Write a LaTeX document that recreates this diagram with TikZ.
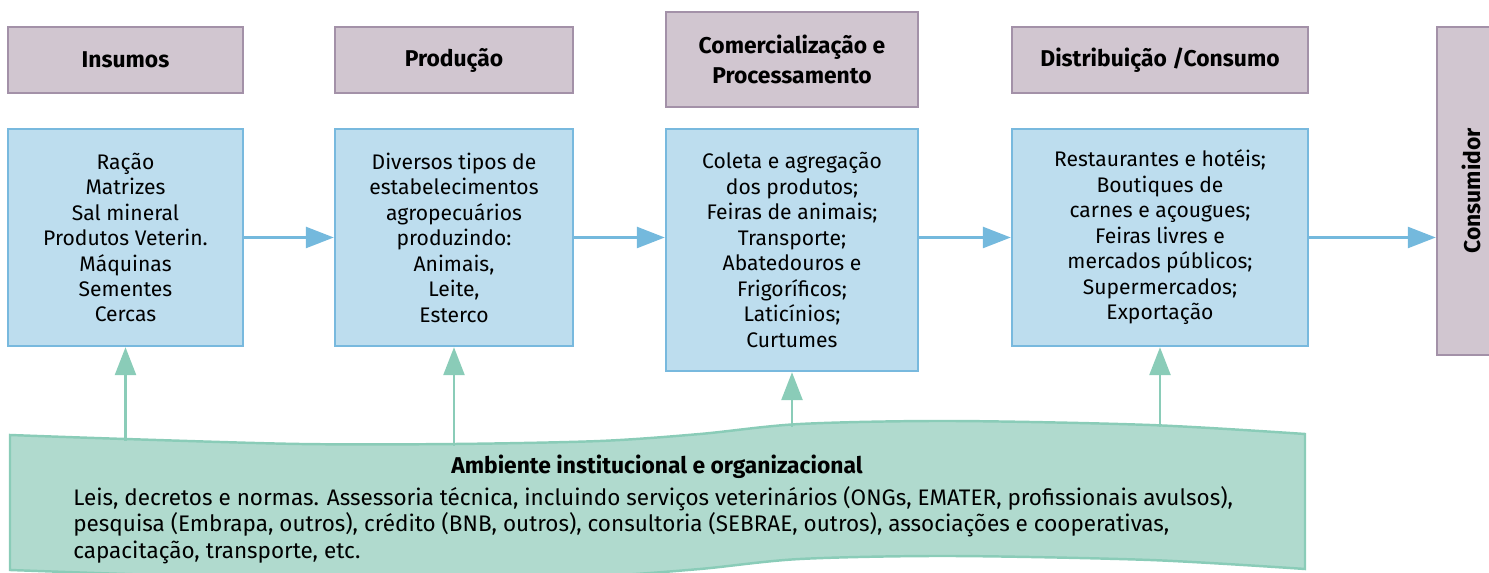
\documentclass[tikz,border=0pt]{standalone}
\usepackage{fontspec}
\setmainfont{Fira Sans}
\usetikzlibrary{arrows.meta}
\definecolor{hdrfill}{RGB}{209,198,208}
\definecolor{hdrline}{RGB}{163,145,168}
\definecolor{blkfill}{RGB}{189,221,238}
\definecolor{blkline}{RGB}{120,185,222}
\definecolor{flwcol}{RGB}{116,185,221}
\definecolor{ambfill}{RGB}{176,218,206}
\definecolor{ambline}{RGB}{138,204,184}
\tikzset{%
    hdr/.style={draw=hdrline,fill=hdrfill,line width=1.4pt,inner sep=0pt,align=center,
        font=\bfseries\fontsize{13}{17}\selectfont},
    blk/.style={draw=blkline,fill=blkfill,line width=1.4pt,inner sep=0pt,align=center,
        font=\fontsize{12}{14.5}\selectfont},
    flw/.style={draw=flwcol,line width=1.5pt,-{Triangle[length=0.56cm,width=0.42cm]}},
    inarr/.style={draw=ambline,line width=1.5pt,-{Triangle[length=0.56cm,width=0.42cm]}},
    ambsh/.style={draw=ambline,fill=ambfill,line width=1.4pt}
}

\begin{document}
\begin{tikzpicture}[x=0.02cm,y=-0.02cm]
        \useasboundingbox (0,0) rectangle (1489,573);
        \clip (0,0) rectangle (1489,573);
        % headers
        \node[hdr,minimum width=4.7cm,minimum height=1.32cm] (hIns) at (125.5,60){Insumos};
        \node[hdr,minimum width=4.76cm,minimum height=1.32cm] (hProd) at (454,60){Produção};
        \node[hdr,minimum width=5.04cm,minimum height=1.9cm] (hCom) at (792,59.5){Comercialização e\\Processamento};
        \node[hdr,minimum width=5.92cm,minimum height=1.32cm] (hDist) at (1160,60){Distribuição /Consumo};
        \node[hdr,minimum width=1.36cm,minimum height=6.56cm] (cons) at (1471,191){};
        \node[font=\bfseries\fontsize{13}{17}\selectfont,rotate=90] (consT) at (cons.center){Consumidor};
        % blocks
        \node[blk,minimum width=4.7cm,minimum height=4.34cm] (ins) at (125.5,237.5){Ração\\Matrizes\\Sal mineral\\Produtos Veterin.\\Máquinas\\Sementes\\Cercas};
        \node[blk,minimum width=4.76cm,minimum height=4.34cm] (prod) at (454,237.5){Diversos tipos de\\estabelecimentos\\agropecuários\\produzindo:\\Animais,\\Leite,\\Esterco};
        \node[blk,minimum width=5.04cm,minimum height=4.84cm] (com) at (792,250){Coleta e agregação\\dos produtos;\\Feiras de animais;\\Transporte;\\Abatedouros e\\Frigoríficos;\\Laticínios;\\Curtumes};
        \node[blk,minimum width=5.92cm,minimum height=4.34cm] (dist) at (1160,237.5){Restaurantes e hotéis;\\Boutiques de\\carnes e açougues;\\Feiras livres e\\mercados públicos;\\Supermercados;\\Exportação};
        \draw[flw] (ins.east) -- (prod.west);
        \draw[flw] (prod.east) -- (prod.east -| com.west);
        \draw[flw] (dist.west -| com.east) -- (dist.west);
        \draw[flw] (dist.east) -- (dist.east -| cons.west);
        % ambiente
        \draw[ambsh] plot[smooth] coordinates {(10,435) (125,439) (300,444) (455,444) (600,441) (700,434) (800,424) (950,421) (1150,425) (1305,434)}
            -- plot[smooth] coordinates {(1305,569) (1150,560) (950,556) (800,559) (700,569) (600,576) (455,579) (300,579) (125,574) (10,570)} -- cycle;
        \node[font=\bfseries\fontsize{13}{15}\selectfont] (ambT) at (657,467){Ambiente institucional e organizacional};
        \node[anchor=west,inner sep=0pt,align=left,font=\fontsize{12.8}{15.1}\selectfont] (ambL) at (73,525){Leis, decretos e normas. Assessoria técnica, incluindo serviços veterinários (ONGs, EMATER, profissionais avulsos),\\pesquisa (Embrapa, outros), crédito (BNB, outros), consultoria (SEBRAE, outros), associações e cooperativas,\\capacitação, transporte, etc.};
        \coordinate (s1) at (125.5,441);
        \coordinate (s2) at (454,446);
        \coordinate (s3) at (792,427);
        \coordinate (s4) at (1160,427);
        \draw[inarr] (s1) -- (ins.south);
        \draw[inarr] (s2) -- (prod.south);
        \draw[inarr] (s3) -- (com.south);
        \draw[inarr] (s4) -- (dist.south);
    \end{tikzpicture}
\end{document}
